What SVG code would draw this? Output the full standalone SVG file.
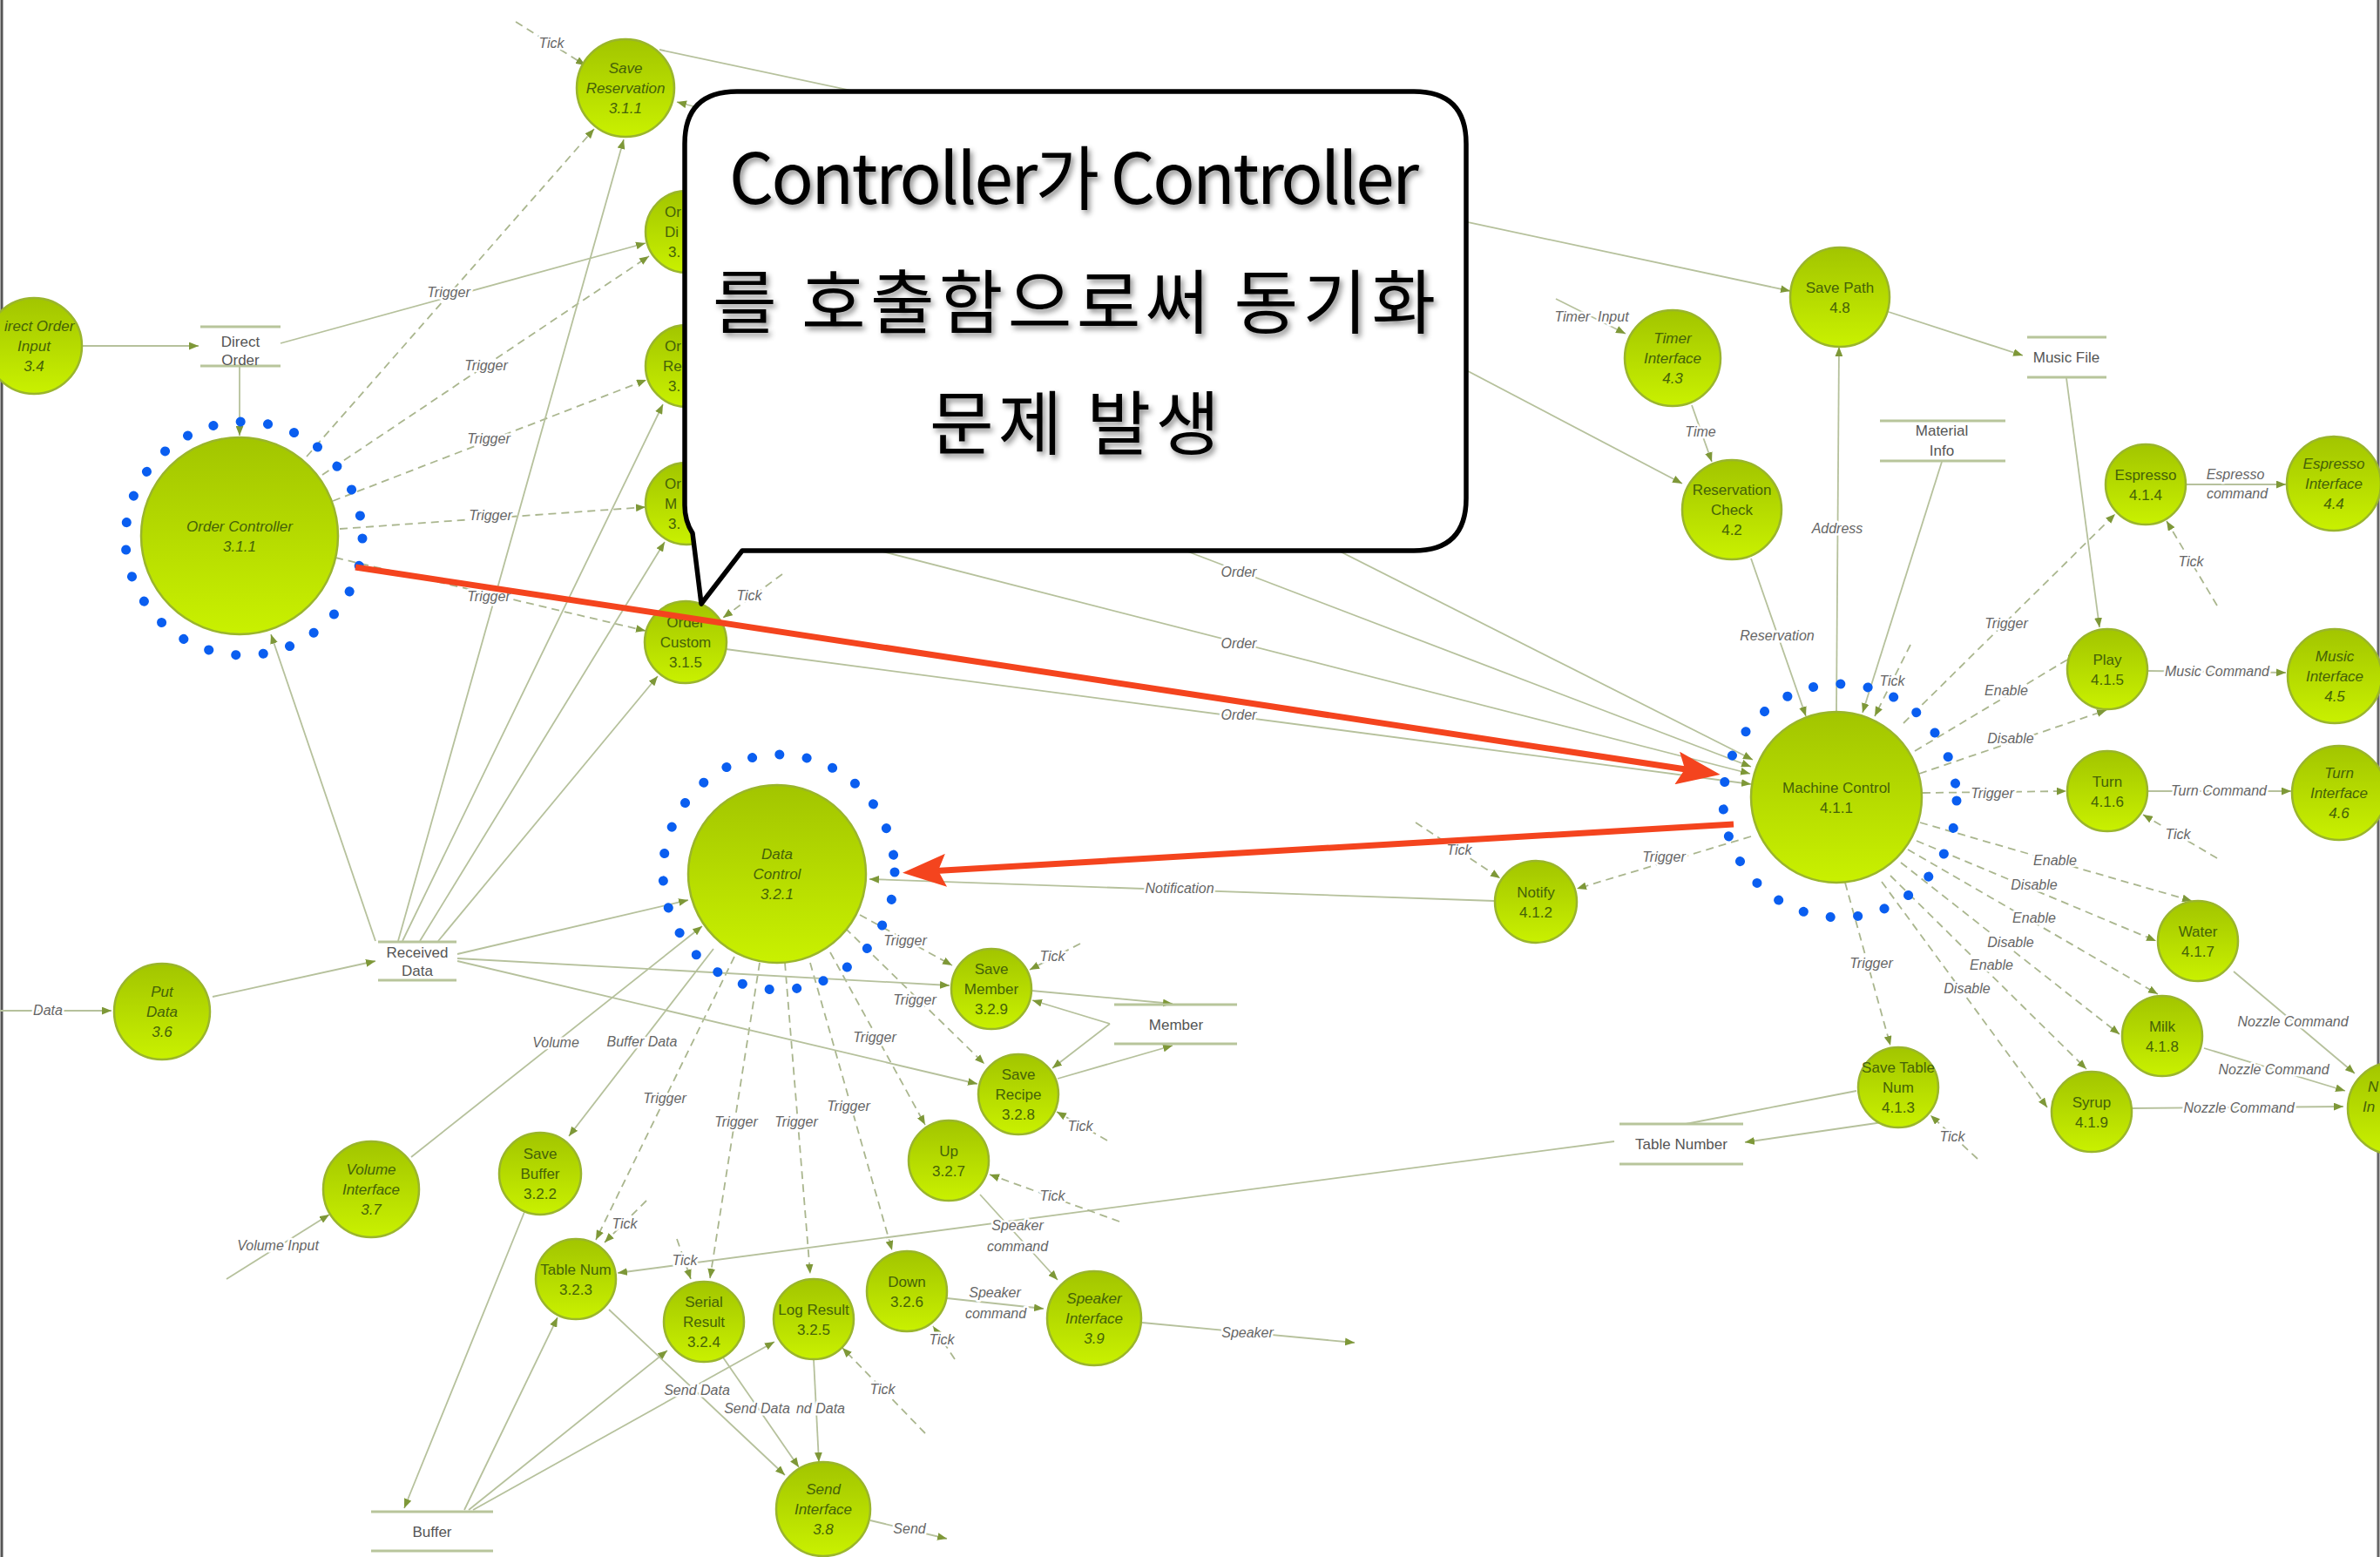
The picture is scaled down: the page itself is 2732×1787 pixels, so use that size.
<svg xmlns="http://www.w3.org/2000/svg" width="2732" height="1787" viewBox="0 0 2732 1787">
<defs>
<linearGradient id="g" x1="0" y1="0" x2="0" y2="1"><stop offset="0" stop-color="#a2c500"/><stop offset="1" stop-color="#c9f100"/></linearGradient>
<marker id="a" viewBox="0 0 10 8" refX="10" refY="4" markerWidth="11" markerHeight="9" markerUnits="userSpaceOnUse" orient="auto"><path d="M0,0 L10,4 L0,8 Z" fill="#7e9838"/></marker>
<marker id="r" viewBox="0 0 50 38" refX="20" refY="19" markerWidth="50" markerHeight="38" markerUnits="userSpaceOnUse" orient="auto"><path d="M0,0 L50,19 L0,38 L9,19 Z" fill="#f4441e"/></marker>
<filter id="sh" x="-10%" y="-30%" width="120%" height="160%"><feDropShadow dx="3" dy="4" stdDeviation="3" flood-color="#000" flood-opacity="0.45"/></filter>
<style>
.n circle{fill:url(#g);stroke:#9ab52c;stroke-width:2.5}
.n text{font-family:"Liberation Sans",Arial,sans-serif;font-size:17px;fill:#456208;text-anchor:middle}
.n.i text{font-style:italic}
.n text.p{text-anchor:start}
.e{stroke:#b6c19c;stroke-width:1.8;fill:none}
.d{stroke:#aab68e;stroke-width:1.8;stroke-dasharray:9 6;fill:none}
.l{font-family:"Liberation Sans",Arial,sans-serif;font-size:16px;font-style:italic;fill:#666;text-anchor:middle;paint-order:stroke;stroke:#fff;stroke-width:5px;stroke-linejoin:round}
.s line{stroke:#b8c59b;stroke-width:3}
.s text{font-family:"Liberation Sans",Arial,sans-serif;font-size:17px;fill:#555;text-anchor:middle}
.ring{fill:none;stroke:#0a5ef0;stroke-width:11;stroke-linecap:round;stroke-dasharray:0.1 31.5}
.red{stroke:#f4441e;stroke-width:7;fill:none}
.k{font-family:"Noto Sans CJK KR","Noto Sans",sans-serif;font-size:80px;fill:#000;filter:url(#sh)}
</style>
</defs>
<rect width="2732" height="1787" fill="#fff"/>
<line x1="2" y1="0" x2="2" y2="1787" stroke="#555" stroke-width="3"/>
<line x1="2730" y1="0" x2="2730" y2="1787" stroke="#666" stroke-width="3"/>

<g id="connectors">
<line class="d" x1="592" y1="25" x2="672" y2="75" marker-end="url(#a)"/>
<line class="e" x1="94" y1="397" x2="228" y2="397" marker-end="url(#a)"/>
<line class="e" x1="275" y1="421" x2="275" y2="500" marker-end="url(#a)"/>
<line class="e" x1="322" y1="394" x2="741" y2="279" marker-end="url(#a)"/>
<line class="d" x1="352" y1="524" x2="682" y2="148" marker-end="url(#a)"/>
<line class="d" x1="370" y1="545" x2="745" y2="294" marker-end="url(#a)"/>
<line class="d" x1="382" y1="575" x2="742" y2="436" marker-end="url(#a)"/>
<line class="d" x1="390" y1="607" x2="741" y2="582" marker-end="url(#a)"/>
<line class="d" x1="385" y1="640" x2="741" y2="724" marker-end="url(#a)"/>
<line class="e" x1="431" y1="1080" x2="311" y2="728" marker-end="url(#a)"/>
<line class="e" x1="457" y1="1080" x2="716" y2="160" marker-end="url(#a)"/>
<line class="e" x1="462" y1="1080" x2="761" y2="464" marker-end="url(#a)"/>
<line class="e" x1="482" y1="1080" x2="763" y2="622" marker-end="url(#a)"/>
<line class="e" x1="503" y1="1080" x2="755" y2="776" marker-end="url(#a)"/>
<line class="e" x1="757" y1="57" x2="2055" y2="334" marker-end="url(#a)"/>
<line class="e" x1="1300" y1="224" x2="1931" y2="555" marker-end="url(#a)"/>
<line class="e" x1="900" y1="150" x2="777" y2="117" marker-end="url(#a)"/>
<line class="d" x1="898" y1="659" x2="830" y2="709" marker-end="url(#a)"/>
<line class="e" x1="843" y1="282" x2="2012" y2="872" marker-end="url(#a)"/>
<line class="e" x1="845" y1="435" x2="2010" y2="880" marker-end="url(#a)"/>
<line class="e" x1="845" y1="590" x2="2009" y2="888" marker-end="url(#a)"/>
<line class="e" x1="833" y1="745" x2="2010" y2="900" marker-end="url(#a)"/>
<line class="e" x1="1786" y1="343" x2="1866" y2="383" marker-end="url(#a)"/>
<line class="e" x1="1942" y1="465" x2="1965" y2="530" marker-end="url(#a)"/>
<line class="e" x1="2010" y1="641" x2="2073" y2="822" marker-end="url(#a)"/>
<line class="e" x1="2108" y1="817" x2="2111" y2="398" marker-end="url(#a)"/>
<line class="e" x1="2229" y1="530" x2="2138" y2="818" marker-end="url(#a)"/>
<line class="e" x1="2168" y1="358" x2="2322" y2="408" marker-end="url(#a)"/>
<line class="e" x1="2372" y1="434" x2="2410" y2="720" marker-end="url(#a)"/>
<line class="d" x1="2193" y1="740" x2="2152" y2="822" marker-end="url(#a)"/>
<line class="d" x1="2185" y1="830" x2="2428" y2="590" marker-end="url(#a)"/>
<line class="d" x1="2198" y1="862" x2="2385" y2="750" marker-end="url(#a)"/>
<line class="d" x1="2203" y1="888" x2="2418" y2="815" marker-end="url(#a)"/>
<line class="d" x1="2207" y1="910" x2="2372" y2="908" marker-end="url(#a)"/>
<line class="e" x1="2509" y1="556" x2="2624" y2="556" marker-end="url(#a)"/>
<line class="d" x1="2545" y1="695" x2="2487" y2="598" marker-end="url(#a)"/>
<line class="e" x1="2465" y1="770" x2="2624" y2="772" marker-end="url(#a)"/>
<line class="e" x1="2465" y1="908" x2="2630" y2="908" marker-end="url(#a)"/>
<line class="d" x1="2545" y1="985" x2="2460" y2="935" marker-end="url(#a)"/>
<line class="d" x1="2204" y1="944" x2="2516" y2="1034" marker-end="url(#a)"/>
<line class="d" x1="2200" y1="965" x2="2475" y2="1080" marker-end="url(#a)"/>
<line class="d" x1="2190" y1="975" x2="2477" y2="1141" marker-end="url(#a)"/>
<line class="d" x1="2182" y1="990" x2="2433" y2="1187" marker-end="url(#a)"/>
<line class="d" x1="2170" y1="1005" x2="2395" y2="1227" marker-end="url(#a)"/>
<line class="d" x1="2160" y1="1012" x2="2350" y2="1271" marker-end="url(#a)"/>
<line class="e" x1="2564" y1="1115" x2="2703" y2="1232" marker-end="url(#a)"/>
<line class="e" x1="2530" y1="1203" x2="2692" y2="1252" marker-end="url(#a)"/>
<line class="e" x1="2447" y1="1272" x2="2690" y2="1270" marker-end="url(#a)"/>
<line class="d" x1="2118" y1="1013" x2="2170" y2="1200" marker-end="url(#a)"/>
<line class="d" x1="2270" y1="1330" x2="2216" y2="1280" marker-end="url(#a)"/>
<line class="e" x1="2161" y1="1288" x2="2003" y2="1311" marker-end="url(#a)"/>
<line class="e" x1="2131" y1="1252" x2="1935" y2="1290"/>
<line class="e" x1="1853" y1="1310" x2="709" y2="1461" marker-end="url(#a)"/>
<line class="d" x1="2010" y1="960" x2="1810" y2="1020" marker-end="url(#a)"/>
<line class="d" x1="1625" y1="944" x2="1722" y2="1008" marker-end="url(#a)"/>
<line class="e" x1="1715" y1="1034" x2="998" y2="1009" marker-end="url(#a)"/>
<line class="d" x1="987" y1="1050" x2="1093" y2="1108" marker-end="url(#a)"/>
<line class="d" x1="970" y1="1065" x2="1130" y2="1221" marker-end="url(#a)"/>
<line class="d" x1="953" y1="1093" x2="1062" y2="1291" marker-end="url(#a)"/>
<line class="d" x1="930" y1="1105" x2="1024" y2="1435" marker-end="url(#a)"/>
<line class="d" x1="901" y1="1105" x2="930" y2="1462" marker-end="url(#a)"/>
<line class="d" x1="872" y1="1105" x2="815" y2="1467" marker-end="url(#a)"/>
<line class="d" x1="843" y1="1098" x2="684" y2="1423" marker-end="url(#a)"/>
<line class="e" x1="819" y1="1089" x2="653" y2="1304" marker-end="url(#a)"/>
<line class="e" x1="472" y1="1328" x2="806" y2="1063" marker-end="url(#a)"/>
<line class="e" x1="525" y1="1095" x2="790" y2="1033" marker-end="url(#a)"/>
<line class="e" x1="525" y1="1100" x2="1090" y2="1131" marker-end="url(#a)"/>
<line class="e" x1="525" y1="1103" x2="1122" y2="1244" marker-end="url(#a)"/>
<line class="e" x1="260" y1="1468" x2="378" y2="1394" marker-end="url(#a)"/>
<line class="e" x1="602" y1="1391" x2="464" y2="1731" marker-end="url(#a)"/>
<line class="e" x1="533" y1="1733" x2="640" y2="1512" marker-end="url(#a)"/>
<line class="e" x1="538" y1="1733" x2="766" y2="1550" marker-end="url(#a)"/>
<line class="e" x1="543" y1="1733" x2="889" y2="1540" marker-end="url(#a)"/>
<line class="e" x1="699" y1="1503" x2="901" y2="1693" marker-end="url(#a)"/>
<line class="e" x1="830" y1="1558" x2="917" y2="1684" marker-end="url(#a)"/>
<line class="e" x1="934" y1="1560" x2="940" y2="1678" marker-end="url(#a)"/>
<line class="d" x1="1062" y1="1645" x2="967" y2="1547" marker-end="url(#a)"/>
<line class="e" x1="999" y1="1745" x2="1087" y2="1766" marker-end="url(#a)"/>
<line class="d" x1="777" y1="1422" x2="793" y2="1468" marker-end="url(#a)"/>
<line class="d" x1="742" y1="1378" x2="694" y2="1426" marker-end="url(#a)"/>
<line class="e" x1="1087" y1="1490" x2="1198" y2="1502" marker-end="url(#a)"/>
<line class="d" x1="1096" y1="1560" x2="1071" y2="1522" marker-end="url(#a)"/>
<line class="e" x1="1125" y1="1371" x2="1214" y2="1469" marker-end="url(#a)"/>
<line class="d" x1="1285" y1="1402" x2="1136" y2="1348" marker-end="url(#a)"/>
<line class="e" x1="1311" y1="1518" x2="1555" y2="1541" marker-end="url(#a)"/>
<line class="e" x1="1214" y1="1238" x2="1346" y2="1200" marker-end="url(#a)"/>
<line class="e" x1="1184" y1="1137" x2="1346" y2="1152" marker-end="url(#a)"/>
<line class="e" x1="1274" y1="1175" x2="1185" y2="1148" marker-end="url(#a)"/>
<line class="e" x1="1274" y1="1175" x2="1208" y2="1226" marker-end="url(#a)"/>
<line class="d" x1="1240" y1="1083" x2="1182" y2="1113" marker-end="url(#a)"/>
<line class="d" x1="1271" y1="1309" x2="1213" y2="1276" marker-end="url(#a)"/>
<line class="e" x1="0" y1="1160" x2="128" y2="1160" marker-end="url(#a)"/>
<line class="e" x1="244" y1="1144" x2="431" y2="1103" marker-end="url(#a)"/>
<g id="connector-labels">
<text class="l" x="633" y="55">Tick</text>
<text class="l" x="515" y="341">Trigger</text>
<text class="l" x="558" y="425">Trigger</text>
<text class="l" x="561" y="509">Trigger</text>
<text class="l" x="563" y="597">Trigger</text>
<text class="l" x="561" y="690">Trigger</text>
<text class="l" x="860" y="689">Tick</text>
<text class="l" x="1422" y="662">Order</text>
<text class="l" x="1422" y="744">Order</text>
<text class="l" x="1422" y="826">Order</text>
<text class="l" x="1827" y="369" xml:space="preserve">Timer  Input</text>
<text class="l" x="1952" y="501">Time</text>
<text class="l" x="2040" y="735">Reservation</text>
<text class="l" x="2109" y="612">Address</text>
<text class="l" x="2172" y="787">Tick</text>
<text class="l" x="2303" y="721">Trigger</text>
<text class="l" x="2303" y="798">Enable</text>
<text class="l" x="2308" y="853">Disable</text>
<text class="l" x="2287" y="916">Trigger</text>
<text class="l" x="2566" y="550">Espresso</text>
<text class="l" x="2568" y="572">command</text>
<text class="l" x="2515" y="650">Tick</text>
<text class="l" x="2545" y="776">Music Command</text>
<text class="l" x="2547" y="913">Turn Command</text>
<text class="l" x="2500" y="963">Tick</text>
<text class="l" x="2359" y="993">Enable</text>
<text class="l" x="2335" y="1021">Disable</text>
<text class="l" x="2335" y="1059">Enable</text>
<text class="l" x="2308" y="1087">Disable</text>
<text class="l" x="2286" y="1113">Enable</text>
<text class="l" x="2258" y="1140">Disable</text>
<text class="l" x="2632" y="1178">Nozzle Command</text>
<text class="l" x="2610" y="1233">Nozzle Command</text>
<text class="l" x="2570" y="1277">Nozzle Command</text>
<text class="l" x="2148" y="1111">Trigger</text>
<text class="l" x="2241" y="1310">Tick</text>
<text class="l" x="1910" y="989">Trigger</text>
<text class="l" x="1675" y="981">Tick</text>
<text class="l" x="1354" y="1025">Notification</text>
<text class="l" x="1039" y="1085">Trigger</text>
<text class="l" x="1050" y="1153">Trigger</text>
<text class="l" x="1004" y="1196">Trigger</text>
<text class="l" x="974" y="1275">Trigger</text>
<text class="l" x="914" y="1293">Trigger</text>
<text class="l" x="845" y="1293">Trigger</text>
<text class="l" x="763" y="1266">Trigger</text>
<text class="l" x="737" y="1201">Buffer Data</text>
<text class="l" x="638" y="1202">Volume</text>
<text class="l" x="319" y="1435">Volume Input</text>
<text class="l" x="800" y="1601">Send Data</text>
<text class="l" x="869" y="1622">Send Data</text>
<text class="l" x="942" y="1622">nd Data</text>
<text class="l" x="1013" y="1600">Tick</text>
<text class="l" x="1044" y="1760">Send</text>
<text class="l" x="786" y="1452">Tick</text>
<text class="l" x="717" y="1410">Tick</text>
<text class="l" x="1142" y="1489">Speaker</text>
<text class="l" x="1143" y="1513">command</text>
<text class="l" x="1081" y="1543">Tick</text>
<text class="l" x="1168" y="1412">Speaker</text>
<text class="l" x="1168" y="1436">command</text>
<text class="l" x="1208" y="1378">Tick</text>
<text class="l" x="1432" y="1535">Speaker</text>
<text class="l" x="1208" y="1103">Tick</text>
<text class="l" x="1240" y="1298">Tick</text>
<text class="l" x="55" y="1165">Data</text>
</g>
</g>

<g id="stores" class="s">
<g id="ds-direct-order"><line x1="230" y1="375" x2="322" y2="375"/><line x1="230" y1="420" x2="322" y2="420"/><text x="276" y="398">Direct</text><text x="276" y="419">Order</text></g>
<g id="ds-received-data"><line x1="434" y1="1081" x2="524" y2="1081"/><line x1="434" y1="1125" x2="524" y2="1125"/><text x="479" y="1099">Received</text><text x="479" y="1120">Data</text></g>
<g id="ds-buffer"><line x1="426" y1="1735" x2="566" y2="1735"/><line x1="426" y1="1780" x2="566" y2="1780"/><text x="496" y="1764">Buffer</text></g>
<g id="ds-member"><line x1="1279" y1="1153" x2="1420" y2="1153"/><line x1="1279" y1="1198" x2="1420" y2="1198"/><text x="1350" y="1182">Member</text></g>
<g id="ds-table-number"><line x1="1859" y1="1290" x2="2001" y2="1290"/><line x1="1859" y1="1336" x2="2001" y2="1336"/><text x="1930" y="1319">Table Number</text></g>
<g id="ds-music-file"><line x1="2327" y1="387" x2="2418" y2="387"/><line x1="2327" y1="433" x2="2418" y2="433"/><text x="2372" y="416">Music File</text></g>
<g id="ds-material-info"><line x1="2158" y1="483" x2="2302" y2="483"/><line x1="2158" y1="529" x2="2302" y2="529"/><text x="2229" y="500">Material</text><text x="2229" y="523">Info</text></g>
</g>

<g id="nodes">
<g id="n-save-reservation" class="n i"><circle cx="718" cy="101" r="56"/><text x="718" y="84">Save</text><text x="718" y="107">Reservation</text><text x="718" y="130">3.1.1</text></g>
<g id="n-order-di" class="n"><circle cx="788" cy="266" r="47"/><text class="p" x="763" y="249">Or</text><text class="p" x="763" y="272">Di</text><text class="p" x="767" y="295">3.</text></g>
<g id="n-order-re" class="n"><circle cx="788" cy="420" r="47"/><text class="p" x="763" y="403">Or</text><text class="p" x="761" y="426">Re</text><text class="p" x="767" y="449">3.</text></g>
<g id="n-order-m" class="n"><circle cx="788" cy="578" r="47"/><text class="p" x="763" y="561">Or</text><text class="p" x="763" y="584">M</text><text class="p" x="767" y="607">3.</text></g>
<g id="n-order-custom" class="n"><circle cx="787" cy="737" r="47"/><text x="787" y="720">Order</text><text x="787" y="743">Custom</text><text x="787" y="766">3.1.5</text></g>
<g id="n-order-controller" class="n i"><circle cx="275" cy="615" r="113"/><text x="275" y="610">Order Controller</text><text x="275" y="633">3.1.1</text></g>
<g id="n-direct-order-input" class="n i"><circle cx="39" cy="397" r="55"/><text class="p" x="5" y="380">irect Order</text><text x="39" y="403">Input</text><text x="39" y="426">3.4</text></g>
<g id="n-put-data" class="n i"><circle cx="186" cy="1161" r="55"/><text x="186" y="1144">Put</text><text x="186" y="1167">Data</text><text x="186" y="1190">3.6</text></g>
<g id="n-volume-interface" class="n i"><circle cx="426" cy="1365" r="55"/><text x="426" y="1348">Volume</text><text x="426" y="1371">Interface</text><text x="426" y="1394">3.7</text></g>
<g id="n-save-buffer" class="n"><circle cx="620" cy="1347" r="47"/><text x="620" y="1330">Save</text><text x="620" y="1353">Buffer</text><text x="620" y="1376">3.2.2</text></g>
<g id="n-table-num" class="n"><circle cx="661" cy="1468" r="46"/><text x="661" y="1463">Table Num</text><text x="661" y="1486">3.2.3</text></g>
<g id="n-serial-result" class="n"><circle cx="808" cy="1517" r="46"/><text x="808" y="1500">Serial</text><text x="808" y="1523">Result</text><text x="808" y="1546">3.2.4</text></g>
<g id="n-log-result" class="n"><circle cx="934" cy="1514" r="46"/><text x="934" y="1509">Log Result</text><text x="934" y="1532">3.2.5</text></g>
<g id="n-down" class="n"><circle cx="1041" cy="1482" r="46"/><text x="1041" y="1477">Down</text><text x="1041" y="1500">3.2.6</text></g>
<g id="n-speaker-interface" class="n i"><circle cx="1256" cy="1513" r="54"/><text x="1256" y="1496">Speaker</text><text x="1256" y="1519">Interface</text><text x="1256" y="1542">3.9</text></g>
<g id="n-send-interface" class="n i"><circle cx="945" cy="1732" r="54"/><text x="945" y="1715">Send</text><text x="945" y="1738">Interface</text><text x="945" y="1761">3.8</text></g>
<g id="n-up" class="n"><circle cx="1089" cy="1332" r="46"/><text x="1089" y="1327">Up</text><text x="1089" y="1350">3.2.7</text></g>
<g id="n-save-recipe" class="n"><circle cx="1169" cy="1256" r="46"/><text x="1169" y="1239">Save</text><text x="1169" y="1262">Recipe</text><text x="1169" y="1285">3.2.8</text></g>
<g id="n-save-member" class="n"><circle cx="1138" cy="1135" r="46"/><text x="1138" y="1118">Save</text><text x="1138" y="1141">Member</text><text x="1138" y="1164">3.2.9</text></g>
<g id="n-data-control" class="n i"><circle cx="892" cy="1003" r="102"/><text x="892" y="986">Data</text><text x="892" y="1009">Control</text><text x="892" y="1032">3.2.1</text></g>
<g id="n-notify" class="n"><circle cx="1763" cy="1035" r="47"/><text x="1763" y="1030">Notify</text><text x="1763" y="1053">4.1.2</text></g>
<g id="n-machine-control" class="n"><circle cx="2108" cy="915" r="98"/><text x="2108" y="910">Machine Control</text><text x="2108" y="933">4.1.1</text></g>
<g id="n-save-table-num" class="n"><circle cx="2179" cy="1248" r="46"/><text x="2179" y="1231">Save Table</text><text x="2179" y="1254">Num</text><text x="2179" y="1277">4.1.3</text></g>
<g id="n-syrup" class="n"><circle cx="2401" cy="1276" r="46"/><text x="2401" y="1271">Syrup</text><text x="2401" y="1294">4.1.9</text></g>
<g id="n-milk" class="n"><circle cx="2482" cy="1189" r="46"/><text x="2482" y="1184">Milk</text><text x="2482" y="1207">4.1.8</text></g>
<g id="n-water" class="n"><circle cx="2523" cy="1080" r="46"/><text x="2523" y="1075">Water</text><text x="2523" y="1098">4.1.7</text></g>
<g id="n-nozzle-interface" class="n i"><circle cx="2748" cy="1272" r="53"/><text class="p" x="2718" y="1253">N</text><text class="p" x="2712" y="1276">In</text></g>
<g id="n-turn" class="n"><circle cx="2419" cy="908" r="46"/><text x="2419" y="903">Turn</text><text x="2419" y="926">4.1.6</text></g>
<g id="n-turn-interface" class="n i"><circle cx="2685" cy="910" r="54"/><text x="2685" y="893">Turn</text><text x="2685" y="916">Interface</text><text x="2685" y="939">4.6</text></g>
<g id="n-play" class="n"><circle cx="2419" cy="768" r="46"/><text x="2419" y="763">Play</text><text x="2419" y="786">4.1.5</text></g>
<g id="n-music-interface" class="n i"><circle cx="2680" cy="776" r="54"/><text x="2680" y="759">Music</text><text x="2680" y="782">Interface</text><text x="2680" y="805">4.5</text></g>
<g id="n-espresso" class="n"><circle cx="2463" cy="556" r="46"/><text x="2463" y="551">Espresso</text><text x="2463" y="574">4.1.4</text></g>
<g id="n-espresso-interface" class="n i"><circle cx="2679" cy="555" r="54"/><text x="2679" y="538">Espresso</text><text x="2679" y="561">Interface</text><text x="2679" y="584">4.4</text></g>
<g id="n-save-path" class="n"><circle cx="2112" cy="341" r="57"/><text x="2112" y="336">Save Path</text><text x="2112" y="359">4.8</text></g>
<g id="n-timer-interface" class="n i"><circle cx="1920" cy="411" r="55"/><text x="1920" y="394">Timer</text><text x="1920" y="417">Interface</text><text x="1920" y="440">4.3</text></g>
<g id="n-reservation-check" class="n"><circle cx="1988" cy="585" r="57"/><text x="1988" y="568">Reservation</text><text x="1988" y="591">Check</text><text x="1988" y="614">4.2</text></g>
</g>

<g id="highlight-rings">
<ellipse class="ring" cx="280" cy="618" rx="136" ry="134"/>
<ellipse class="ring" cx="894" cy="1001" rx="133" ry="135"/>
<ellipse class="ring" cx="2112" cy="919" rx="134" ry="134"/>
</g>

<g id="red-arrows">
<line class="red" x1="408" y1="651" x2="1945" y2="884.5" marker-end="url(#r)"/>
<line class="red" x1="1990" y1="946" x2="1066" y2="1000" marker-end="url(#r)"/>
</g>

<g id="callout">
<path d="M846,105 L1623,105 Q1683,105 1683,165 L1683,572 Q1683,632 1623,632 L852,632 L805,693 L795,612 Q786,598 786,580 L786,165 Q786,105 846,105 Z" fill="#fff" stroke="#000" stroke-width="5.5" stroke-linejoin="round"/>
<text class="k" x="837" y="234" textLength="792" lengthAdjust="spacing">Controller가 Controller</text>
<text class="k" x="818" y="376" textLength="830" lengthAdjust="spacing">를 호출함으로써 동기화</text>
<text class="k" x="1067" y="515" textLength="333" lengthAdjust="spacing">문제 발생</text>
</g>
</svg>
